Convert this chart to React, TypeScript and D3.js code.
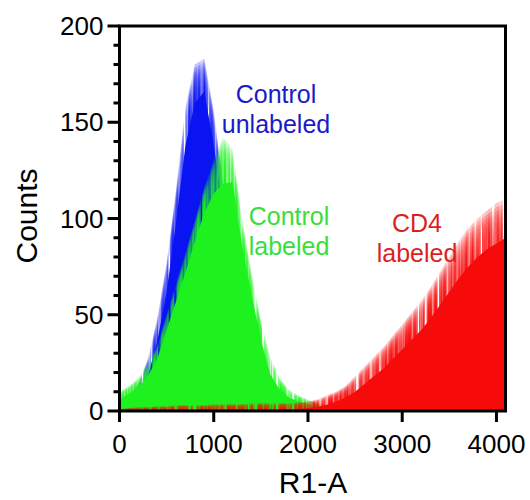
import React from 'react';
import * as d3 from 'd3';

// Channel positions (bin starts) on the R1-A axis
const channels = [
  0, 100, 200, 300, 400, 500, 600, 700, 800, 900,
  1000, 1100, 1200, 1300, 1400, 1500, 1600, 1700, 1800, 1900,
  2000, 2100, 2200, 2300, 2400, 2500, 2600, 2700, 2800, 2900,
  3000, 3100, 3200, 3300, 3400, 3500, 3600, 3700, 3800, 3900,
  4000, 4100,
];

// Control unlabeled: dense part of the histogram and tops of the noisy spikes
const blueBody = [
  3, 5, 9, 18, 36, 62, 98, 138, 160, 166,
  138, 105, 75, 48, 28, 14, 6, 3, 1, 0,
  0, 0, 0, 0, 0, 0, 0, 0, 0, 0,
  0, 0, 0, 0, 0, 0, 0, 0, 0, 0,
  0, 0,
];
const bluePeak = [
  5, 8, 14, 27, 48, 77, 115, 158, 180, 183,
  156, 118, 85, 56, 34, 18, 9, 5, 2, 1,
  0, 0, 0, 0, 0, 0, 0, 0, 0, 0,
  0, 0, 0, 0, 0, 0, 0, 0, 0, 0,
  0, 0,
];

// Control labeled
const greenBody = [
  6, 9, 12, 18, 27, 42, 57, 72, 88, 103,
  113, 118, 119, 86, 61, 37, 19, 11, 7, 5,
  3.5, 2, 1, 0.5, 0, 0, 0, 0, 0, 0,
  0, 0, 0, 0, 0, 0, 0, 0, 0, 0,
  0, 0,
];
const greenPeak = [
  10, 13, 17, 24, 34, 50, 66, 82, 99, 116,
  130, 142, 136, 100, 72, 47, 28, 17, 11, 8,
  6, 4, 3, 2, 1, 0, 0, 0, 0, 0,
  0, 0, 0, 0, 0, 0, 0, 0, 0, 0,
  0, 0,
];

// CD4 labeled
const redBody = [
  0.2, 0.2, 0.2, 0.2, 0.2, 0.2, 0.2, 0.2, 0.2, 0.3,
  0.3, 0.4, 0.4, 0.4, 0.4, 0.5, 0.5, 0.5, 0.7, 1,
  1.5, 2.2, 3.2, 5, 7, 10, 14, 18, 22, 27,
  32, 37, 42, 48, 55, 62, 69, 75, 80, 84,
  87, 90,
];
const redPeak = [
  1, 1.5, 2, 2, 2.5, 2.5, 3, 3, 3, 3,
  3.5, 3.5, 3.5, 3.5, 4, 4, 4, 4, 4, 4.5,
  5, 6, 8, 10, 13, 18, 23, 28, 33, 39,
  45, 51, 57, 64, 72, 80, 88, 95, 100, 104,
  108, 110,
];

const yMajorTicks = [0, 50, 100, 150, 200];
const xTicks = [0, 1000, 2000, 3000, 4000];

const W = 530;
const H = 500;
const FONT = '"Liberation Sans", Arial, Helvetica, sans-serif';

const x = d3.scaleLinear().domain([0, 4096]).range([119.5, 505.5]);
const y = d3.scaleLinear().domain([0, 200]).range([411, 26]);

const series = [
  { key: 'unlabeled', color: '#0a14f2', body: blueBody, peak: bluePeak },
  { key: 'labeled', color: '#1ef21e', body: greenBody, peak: greenPeak },
  { key: 'cd4', color: '#f70a0a', body: redBody, peak: redPeak },
];

const LAYERS = 10;
const LAYER_OPACITY = 0.3;

const area = d3
  .area<number>()
  .x((_, i) => x(channels[i]))
  .y0(y(0))
  .y1((d) => y(d));

// Semi-transparent steps between the dense body and the spike tops
function fadeLayers(body: number[], peak: number[]) {
  return d3
    .range(1, LAYERS + 1)
    .map((k) => body.map((b, i) => b + ((peak[i] - b) * k) / LAYERS));
}

export default function App() {
  const [x0, x1] = x.range();
  const [yBottom, yTop] = y.range();
  const minorTicks = d3.range(0, 201, 10).filter((v) => v % 50 !== 0);

  return (
    <svg
      width={W}
      height={H}
      style={{ position: 'absolute', left: 0, top: 0, background: '#fff' }}
      fontFamily={FONT}
    >
      <defs>
        <clipPath id="plot-clip">
          <rect x={x0} y={yTop} width={x1 - x0} height={yBottom - yTop} />
        </clipPath>
        {/* vertical streak texture for the sparse spike tops */}
        <filter id="streaks" x={x0} y={yTop} width={x1 - x0} height={yBottom - yTop} filterUnits="userSpaceOnUse">
          <feTurbulence type="fractalNoise" baseFrequency="0.35 0.004" numOctaves={2} seed={7} />
          <feColorMatrix
            type="matrix"
            values="2.6 0 0 0 -0.75  2.6 0 0 0 -0.75  2.6 0 0 0 -0.75  0 0 0 0 1"
          />
        </filter>
        <mask id="streak-mask" maskUnits="userSpaceOnUse" x={x0} y={yTop} width={x1 - x0} height={yBottom - yTop}>
          <rect x={x0} y={yTop} width={x1 - x0} height={yBottom - yTop} fill="#fff" filter="url(#streaks)" />
        </mask>
      </defs>

      <g clipPath="url(#plot-clip)">
        {series.map((s) => (
          <g key={s.key}>
            <g mask="url(#streak-mask)">
              {fadeLayers(s.body, s.peak).map((layer, i) => (
                <path
                  key={i}
                  d={area(layer) || ''}
                  fill={s.color}
                  fillOpacity={LAYER_OPACITY}
                />
              ))}
            </g>
            <path d={area(s.body) || ''} fill={s.color} />
          </g>
        ))}
      </g>

      {/* frame */}
      <rect
        x={x0}
        y={yTop}
        width={x1 - x0}
        height={yBottom - yTop}
        fill="none"
        stroke="#000"
        strokeWidth={3}
      />

      {/* y axis ticks */}
      {yMajorTicks.map((v) => (
        <g key={`ym${v}`}>
          <line x1={x0 - 12} x2={x0} y1={y(v)} y2={y(v)} stroke="#000" strokeWidth={3} />
          <text
            x={x0 - 16}
            y={y(v)}
            dy="0.35em"
            textAnchor="end"
            fontSize={26}
            fill="#000"
          >
            {v}
          </text>
        </g>
      ))}
      {minorTicks.map((v) => (
        <line key={`yn${v}`} x1={x0 - 6} x2={x0} y1={y(v)} y2={y(v)} stroke="#000" strokeWidth={3} />
      ))}

      {/* x axis ticks */}
      {xTicks.map((v) => (
        <g key={`x${v}`}>
          <line x1={x(v)} x2={x(v)} y1={yBottom} y2={yBottom + 11} stroke="#000" strokeWidth={3} />
          <text x={x(v)} y={453} textAnchor="middle" fontSize={26} fill="#000">
            {v}
          </text>
        </g>
      ))}

      {/* axis titles */}
      <text x={313} y={493} textAnchor="middle" fontSize={30} fill="#000">
        R1-A
      </text>
      <text
        transform="translate(37,216) rotate(-90)"
        textAnchor="middle"
        fontSize={30}
        fill="#000"
      >
        Counts
      </text>

      {/* series labels */}
      <g fontSize={25} textAnchor="middle">
        <text x={276} y={103} fill="#1a1ac8">Control</text>
        <text x={276} y={133} fill="#1a1ac8">unlabeled</text>
        <text x={289} y={225} fill="#3ade3a">Control</text>
        <text x={289} y={255} fill="#3ade3a">labeled</text>
        <text x={417} y={232} fill="#dc1f1f">CD4</text>
        <text x={417} y={262} fill="#dc1f1f">labeled</text>
      </g>
    </svg>
  );
}
